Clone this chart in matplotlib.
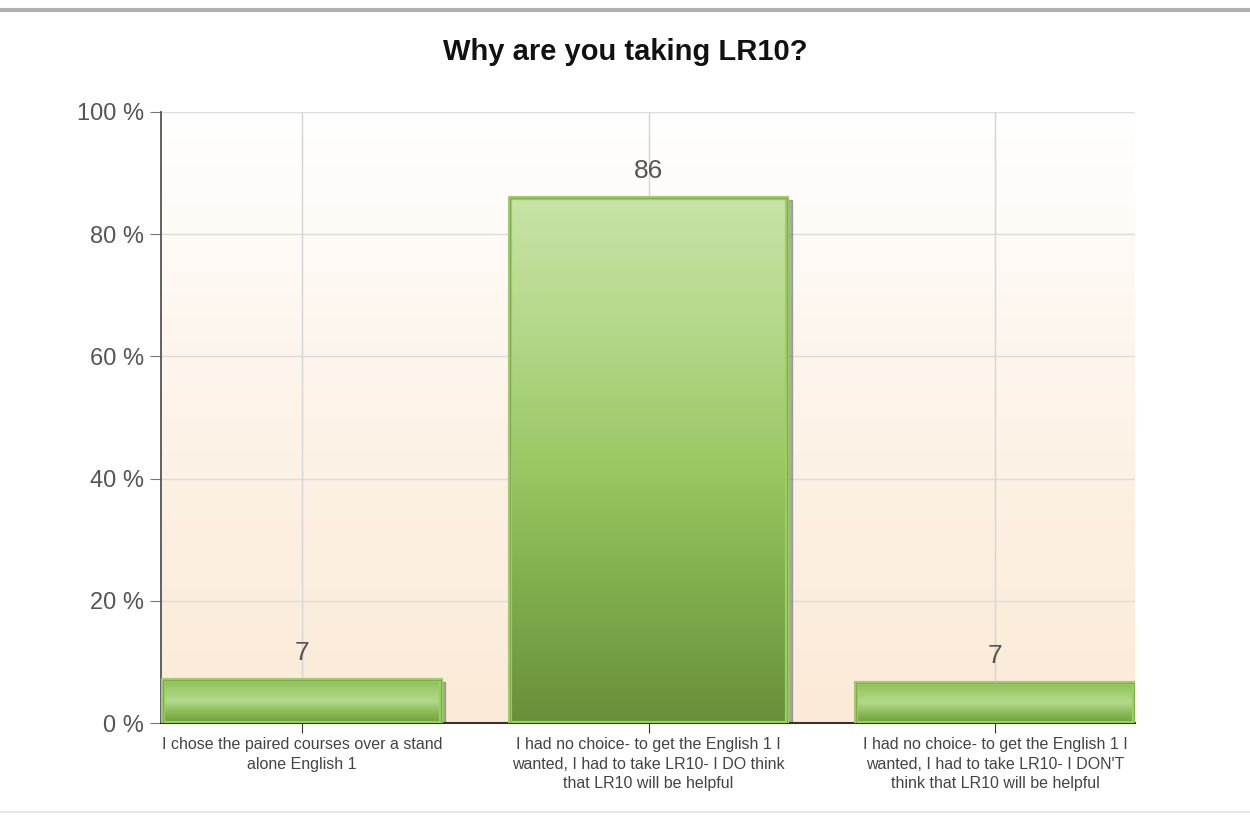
import matplotlib.pyplot as plt
import numpy as np
from matplotlib.colors import LinearSegmentedColormap
from matplotlib.patches import Rectangle

plt.rcParams['font.family'] = ['Liberation Sans', 'DejaVu Sans']

# Dados
categorias = [
    "I chose the paired courses over a stand\nalone English 1",
    "I had no choice- to get the English 1 I\nwanted, I had to take LR10- I DO think\nthat LR10 will be helpful",
    "I had no choice- to get the English 1 I\nwanted, I had to take LR10- I DON'T\nthink that LR10 will be helpful",
]
valores = [7.1, 86.0, 6.6]
rotulos = ["7", "86", "7"]
ticks_y = [0, 20, 40, 60, 80, 100]

fig = plt.figure(figsize=(12.5, 8.25), dpi=100)
ax = fig.add_axes([161 / 1250, 1 - 723 / 825, (1135 - 161) / 1250, (723 - 112) / 825])

x = np.arange(len(categorias))
xmin, xmax = -0.407, 2.404
ax.set_xlim(xmin, xmax)
ax.set_ylim(0, 100)

# Fundo degradê (branco -> pêssego)
fundo = LinearSegmentedColormap.from_list("fundo", ["#fbead7", "#fdf3e8", "#ffffff"])
grad = np.linspace(0, 1, 256).reshape(-1, 1)
ax.imshow(grad, extent=[xmin, xmax, 0, 100], origin="lower", cmap=fundo, aspect="auto", zorder=0)

# Grade
for t in ticks_y[1:]:
    ax.axhline(t, color="#dcdcdc", lw=1, zorder=1)
for xi in x:
    ax.axvline(xi, color="#d4d4d4", lw=1, zorder=1)

largura = 0.8
verde_vert = LinearSegmentedColormap.from_list("vv", ["#688f3a", "#80ad4c", "#9cc865", "#b4d88a", "#c8e3a6"])
verde_horiz = LinearSegmentedColormap.from_list("vh", ["#6f9a40", "#8cbc56", "#b3d98c", "#a2cf70", "#8abb55"])

bars = ax.bar(x, valores, width=largura, color="none", edgecolor="none", zorder=3)
for i, b in enumerate(bars):
    x0, y0, w, h = b.get_x(), b.get_y(), b.get_width(), b.get_height()
    # sombra
    ax.add_patch(Rectangle((x0 + 0.014, y0 - 0.4), w, h, color="#6e6e6e", alpha=0.55, zorder=2))
    if h > 50:
        cmap = verde_vert
    else:
        cmap = verde_horiz
    ax.imshow(grad, extent=[x0, x0 + w, y0, y0 + h], origin="lower", cmap=cmap, aspect="auto", zorder=3)
    ax.add_patch(Rectangle((x0, y0), w, h, fill=False, edgecolor="#9ccf66", lw=3, zorder=4))
    ax.add_patch(Rectangle((x0, y0), w, h, fill=False, edgecolor="#7fa84f", lw=0.8, zorder=4))
    ax.text(x[i], h + 2.4, rotulos[i], ha="center", va="bottom", fontsize=19, color="#555555", zorder=5)

ax.set_xlim(xmin, xmax)
ax.set_ylim(0, 100)

ax.set_yticks(ticks_y)
ax.set_yticklabels([f"{t} %" for t in ticks_y], fontsize=17, color="#555555")
ax.set_xticks(x)
ax.set_xticklabels(categorias, fontsize=11.5, color="#444444", linespacing=1.4)
ax.tick_params(axis="y", length=8, color="#777777", pad=4)
ax.tick_params(axis="x", length=7, color="#333333", pad=3)

for s in ["top", "right"]:
    ax.spines[s].set_visible(False)
ax.spines["left"].set_color("#555555")
ax.spines["bottom"].set_color("#333333")
ax.spines["left"].set_linewidth(1.3)
ax.spines["bottom"].set_linewidth(1.5)

fig.text(0.5, 1 - 52 / 825, "Why are you taking LR10?", ha="center", va="center",
         fontsize=21, fontweight="bold", color="#111111")

# linhas de borda da página
fig.add_artist(plt.Line2D([0, 1], [1 - 10 / 825, 1 - 10 / 825], color="#b0b0b0", lw=3))
fig.add_artist(plt.Line2D([0, 1], [1 - 812 / 825, 1 - 812 / 825], color="#e6e6e6", lw=1.5))

fig.savefig("out.png", dpi=100)
